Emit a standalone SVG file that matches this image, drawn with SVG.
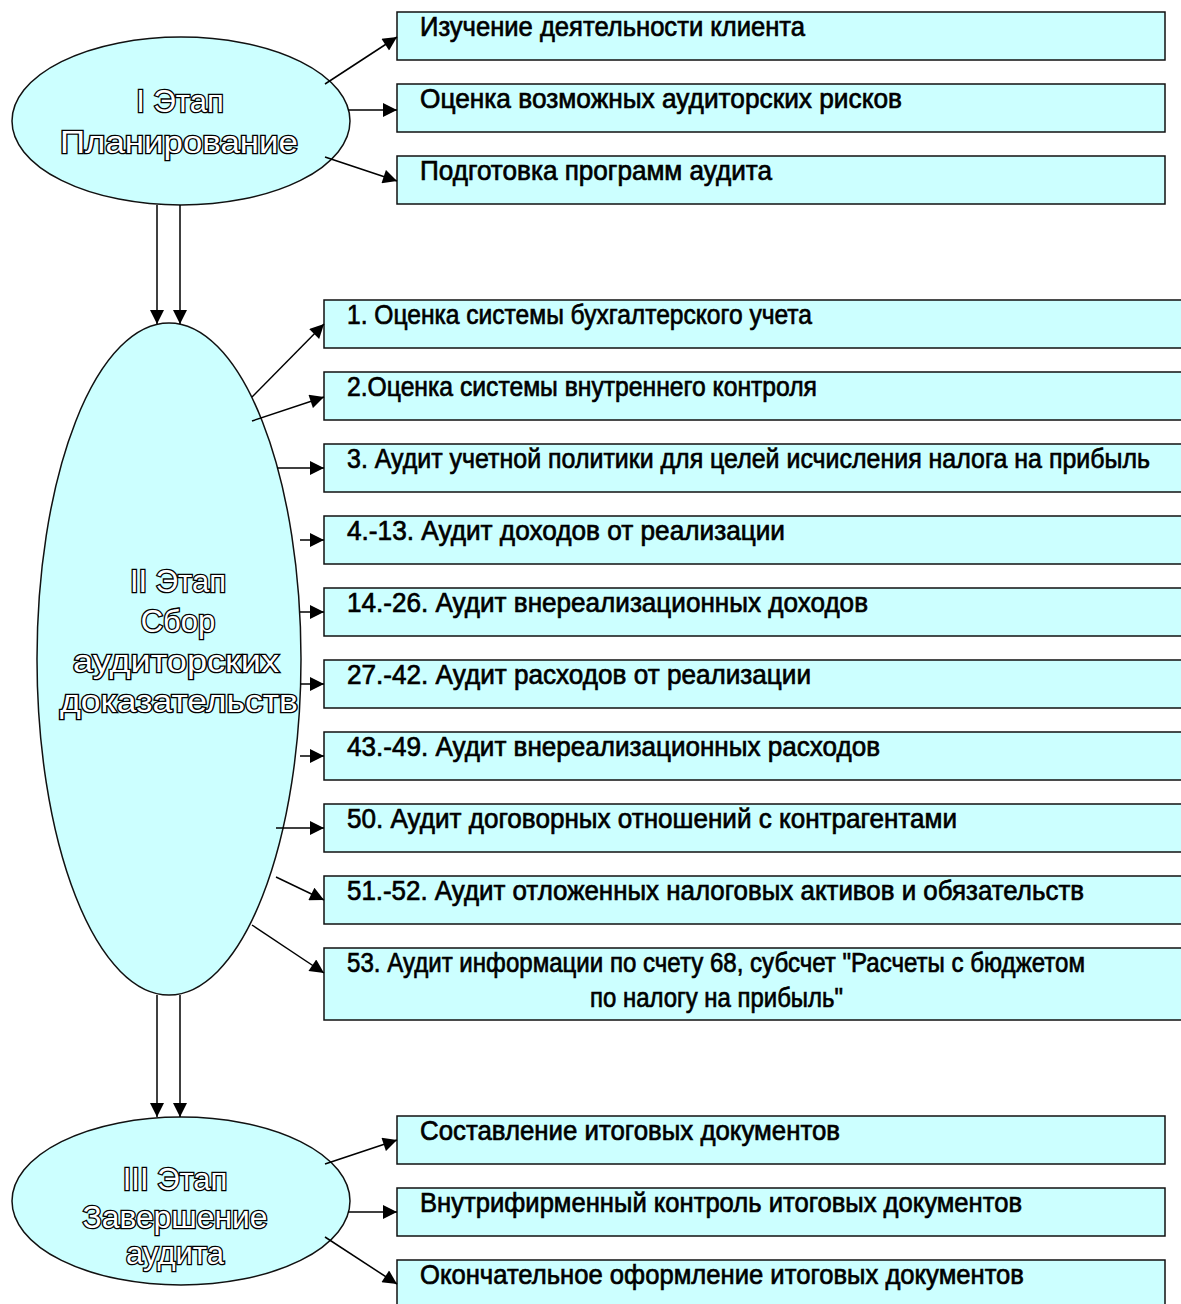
<svg xmlns="http://www.w3.org/2000/svg" width="1181" height="1304" viewBox="0 0 1181 1304">
<style>
.node{fill:#CCFFFF;stroke:#111;stroke-width:1.5}
.bt{font-family:"Liberation Sans",Arial,sans-serif;font-size:28px;fill:#000;stroke:#000;stroke-width:0.7}
.et{font-family:"Liberation Sans",Arial,sans-serif;font-size:31px;fill:#fff;stroke:#000;stroke-width:2.6;text-anchor:middle;paint-order:stroke}
.c line{stroke:#000;stroke-width:1.5;marker-end:url(#ah)}
</style>
<defs>
<marker id="ah" viewBox="0 0 10 10" refX="10" refY="5" markerWidth="16" markerHeight="14" markerUnits="userSpaceOnUse" orient="auto">
<path d="M0,0 L10,5 L0,10 z" fill="#000"/>
</marker>
</defs>
<rect width="1181" height="1304" fill="#fff"/>

<g id="stage1">
<ellipse class="node" cx="181" cy="121" rx="169" ry="84"/>
<text class="et" x="180" y="112">I Этап</text>
<text class="et" x="179" y="153" textLength="238" lengthAdjust="spacingAndGlyphs">Планирование</text>
</g>
<g id="b1a"><rect class="node" x="397" y="12" width="768" height="48"/><text class="bt" x="420" y="36" textLength="385" lengthAdjust="spacingAndGlyphs">Изучение деятельности клиента</text></g>
<g id="b1b"><rect class="node" x="397" y="84" width="768" height="48"/><text class="bt" x="420" y="108" textLength="482" lengthAdjust="spacingAndGlyphs">Оценка возможных аудиторских рисков</text></g>
<g id="b1c"><rect class="node" x="397" y="156" width="768" height="48"/><text class="bt" x="420" y="180" textLength="352" lengthAdjust="spacingAndGlyphs">Подготовка программ аудита</text></g>

<g id="stage2">
<ellipse class="node" cx="169" cy="659" rx="132" ry="336"/>
<text class="et" x="178" y="592">II Этап</text>
<text class="et" x="178" y="632">Сбор</text>
<text class="et" x="176" y="672" textLength="206" lengthAdjust="spacingAndGlyphs">аудиторских</text>
<text class="et" x="179" y="712" textLength="238" lengthAdjust="spacingAndGlyphs">доказательств</text>
</g>
<g id="b2_1"><rect class="node" x="324" y="300" width="860" height="48"/><text class="bt" x="347" y="324" textLength="465" lengthAdjust="spacingAndGlyphs">1. Оценка системы бухгалтерского учета</text></g>
<g id="b2_2"><rect class="node" x="324" y="372" width="860" height="48"/><text class="bt" x="347" y="396" textLength="470" lengthAdjust="spacingAndGlyphs">2.Оценка системы внутреннего контроля</text></g>
<g id="b2_3"><rect class="node" x="324" y="444" width="860" height="48"/><text class="bt" x="347" y="468" textLength="803" lengthAdjust="spacingAndGlyphs">3. Аудит учетной политики для целей исчисления налога на прибыль</text></g>
<g id="b2_4"><rect class="node" x="324" y="516" width="860" height="48"/><text class="bt" x="347" y="540" textLength="438" lengthAdjust="spacingAndGlyphs">4.-13. Аудит доходов от реализации</text></g>
<g id="b2_5"><rect class="node" x="324" y="588" width="860" height="48"/><text class="bt" x="347" y="612" textLength="521" lengthAdjust="spacingAndGlyphs">14.-26. Аудит внереализационных доходов</text></g>
<g id="b2_6"><rect class="node" x="324" y="660" width="860" height="48"/><text class="bt" x="347" y="684" textLength="464" lengthAdjust="spacingAndGlyphs">27.-42. Аудит расходов от реализации</text></g>
<g id="b2_7"><rect class="node" x="324" y="732" width="860" height="48"/><text class="bt" x="347" y="756" textLength="533" lengthAdjust="spacingAndGlyphs">43.-49. Аудит внереализационных расходов</text></g>
<g id="b2_8"><rect class="node" x="324" y="804" width="860" height="48"/><text class="bt" x="347" y="828" textLength="610" lengthAdjust="spacingAndGlyphs">50. Аудит договорных отношений с контрагентами</text></g>
<g id="b2_9"><rect class="node" x="324" y="876" width="860" height="48"/><text class="bt" x="347" y="900" textLength="737" lengthAdjust="spacingAndGlyphs">51.-52. Аудит отложенных налоговых активов и обязательств</text></g>
<g id="b2_10"><rect class="node" x="324" y="948" width="860" height="72"/><text class="bt" x="347" y="972" textLength="738" lengthAdjust="spacingAndGlyphs">53. Аудит информации по счету 68, субсчет "Расчеты с бюджетом</text><text class="bt" x="590" y="1007" textLength="253" lengthAdjust="spacingAndGlyphs">по налогу на прибыль"</text></g>

<g id="stage3">
<ellipse class="node" cx="181" cy="1201" rx="169" ry="84"/>
<text class="et" x="175" y="1190">III Этап</text>
<text class="et" x="175" y="1228" textLength="185" lengthAdjust="spacingAndGlyphs">Завершение</text>
<text class="et" x="175" y="1264">аудита</text>
</g>
<g id="b3a"><rect class="node" x="397" y="1116" width="768" height="48"/><text class="bt" x="420" y="1140" textLength="420" lengthAdjust="spacingAndGlyphs">Составление итоговых документов</text></g>
<g id="b3b"><rect class="node" x="397" y="1188" width="768" height="48"/><text class="bt" x="420" y="1212" textLength="602" lengthAdjust="spacingAndGlyphs">Внутрифирменный контроль итоговых документов</text></g>
<g id="b3c"><rect class="node" x="397" y="1260" width="768" height="50"/><text class="bt" x="420" y="1284" textLength="604" lengthAdjust="spacingAndGlyphs">Окончательное оформление итоговых документов</text></g>

<g id="connectors" class="c">
<line x1="325" y1="84" x2="397" y2="37"/>
<line x1="348" y1="110" x2="397" y2="110"/>
<line x1="325" y1="157" x2="397" y2="181"/>
<line x1="157" y1="205" x2="157" y2="324"/>
<line x1="180" y1="205" x2="180" y2="324"/>
<line x1="252" y1="397" x2="324" y2="324"/>
<line x1="252" y1="421" x2="324" y2="397"/>
<line x1="277" y1="468" x2="324" y2="468"/>
<line x1="300" y1="540" x2="324" y2="540"/>
<line x1="300" y1="612" x2="324" y2="612"/>
<line x1="300" y1="684" x2="324" y2="684"/>
<line x1="300" y1="756" x2="324" y2="756"/>
<line x1="276" y1="828" x2="324" y2="828"/>
<line x1="276" y1="877" x2="324" y2="900"/>
<line x1="252" y1="925" x2="324" y2="973"/>
<line x1="157" y1="995" x2="157" y2="1117"/>
<line x1="180" y1="995" x2="180" y2="1117"/>
<line x1="325" y1="1164" x2="397" y2="1140"/>
<line x1="348" y1="1212" x2="397" y2="1212"/>
<line x1="325" y1="1237" x2="397" y2="1284"/>
</g>
</svg>
